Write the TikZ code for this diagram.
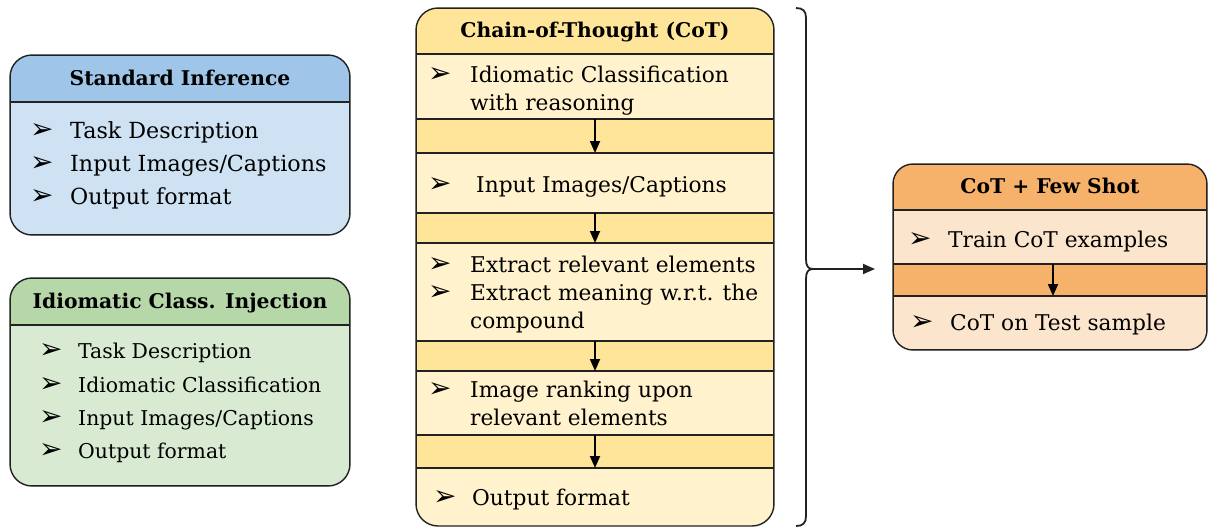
\documentclass[tikz,border=0pt]{standalone}
\usepackage{fontspec}
\setmainfont{DejaVu Serif}
\newfontfamily\bulfont{DejaVu Sans}
\usetikzlibrary{arrows.meta}
\definecolor{blueH}{HTML}{9FC5E8}
\definecolor{blueB}{HTML}{CFE2F3}
\definecolor{greenH}{HTML}{B6D7A8}
\definecolor{greenB}{HTML}{D9EAD3}
\definecolor{yelH}{HTML}{FFE599}
\definecolor{yelB}{HTML}{FFF2CC}
\definecolor{orH}{HTML}{F6B26B}
\definecolor{orB}{HTML}{FCE5CD}
\definecolor{edge}{HTML}{222222}
\newcommand{\bul}{\raisebox{-0.5pt}{\bulfont\fontsize{28}{28}\selectfont\char"27A2}}
\newcommand{\itm}[2]{\makebox[#1][l]{\bul}#2}
\tikzset{
  part/.style={rectangle, draw=edge, line width=1.2pt, anchor=north west, inner sep=0pt, outer sep=0pt},
  item/.style={anchor=base west, inner sep=0pt, font=\fontsize{22.2}{27.5}\selectfont},
  itemc/.style={item, font=\fontsize{21.7}{27.5}\selectfont},
  itemg/.style={item, font=\fontsize{20.4}{27.5}\selectfont},
  head/.style={anchor=base, font=\bfseries\fontsize{20.3}{22}\selectfont, inner sep=0pt},
  flow/.style={-{Triangle[length=12pt,width=10pt]}, line width=1.8pt},
  frame/.style={draw=edge, line width=1.4pt, rounded corners=22pt},
}
\begin{document}
\begin{tikzpicture}[x=1pt,y=-1pt]
\useasboundingbox (0,0) rectangle (1208,528);
% ---------- Standard Inference ----------
\begin{scope}
  \clip[rounded corners=22pt] (10,55) rectangle (350,235);
  \node[part, fill=blueH, minimum width=340pt, minimum height=47pt] (sih) at (10,55) {};
  \node[part, fill=blueB, minimum width=340pt, minimum height=133pt] (sib) at (10,102) {};
\end{scope}
\draw[frame] (10,55) rectangle (350,235);
\node[head] (sit) at (180,85) {Standard Inference};
\node[item] (si1) at (30,138) {\itm{40pt}{Task Description}};
\node[item] (si2) at (30,171) {\itm{40pt}{Input Images/Captions}};
\node[item] (si3) at (30,204) {\itm{40pt}{Output format}};
% ---------- Idiomatic Class. Injection ----------
\begin{scope}
  \clip[rounded corners=22pt] (10,278) rectangle (350,486);
  \node[part, fill=greenH, minimum width=340pt, minimum height=47pt] (ich) at (10,278) {};
  \node[part, fill=greenB, minimum width=340pt, minimum height=161pt] (icb) at (10,325) {};
\end{scope}
\draw[frame] (10,278) rectangle (350,486);
\node[head] (ict) at (180,308) {Idiomatic Class. Injection};
\node[itemg] (ic1) at (39,358) {\itm{39pt}{Task Description}};
\node[itemg] (ic2) at (39,392) {\itm{39pt}{Idiomatic Classification}};
\node[itemg] (ic3) at (39,425) {\itm{39pt}{Input Images/Captions}};
\node[itemg] (ic4) at (39,458) {\itm{39pt}{Output format}};
% ---------- Chain-of-Thought ----------
\begin{scope}
  \clip[rounded corners=22pt] (416,8) rectangle (774,526);
  \node[part, fill=yelH, minimum width=358pt, minimum height=46pt] (coth) at (416,8) {};
  \node[part, fill=yelB, minimum width=358pt, minimum height=65pt] (r1) at (416,54) {};
  \node[part, fill=yelH, minimum width=358pt, minimum height=34pt] (b1) at (416,119) {};
  \node[part, fill=yelB, minimum width=358pt, minimum height=60pt] (r2) at (416,153) {};
  \node[part, fill=yelH, minimum width=358pt, minimum height=30pt] (b2) at (416,213) {};
  \node[part, fill=yelB, minimum width=358pt, minimum height=98pt] (r3) at (416,243) {};
  \node[part, fill=yelH, minimum width=358pt, minimum height=30pt] (b3) at (416,341) {};
  \node[part, fill=yelB, minimum width=358pt, minimum height=64pt] (r4) at (416,371) {};
  \node[part, fill=yelH, minimum width=358pt, minimum height=33pt] (b4) at (416,435) {};
  \node[part, fill=yelB, minimum width=358pt, minimum height=60pt] (r5) at (416,468) {};
\end{scope}
\draw[frame] (416,8) rectangle (774,526);
\node[head] (cott) at (595,37) {Chain-of-Thought (CoT)};
\node[itemc] (c1) at (428,82) {\itm{42pt}{Idiomatic Classification}};
\node[itemc] (c1b) at (470,110) {with reasoning};
\node[itemc] (c2) at (428,192) {\itm{48pt}{Input Images/Captions}};
\node[itemc] (c3) at (428,272) {\itm{42pt}{Extract relevant elements}};
\node[itemc] (c4) at (428,300) {\itm{42pt}{Extract meaning w.r.t. the}};
\node[itemc] (c4b) at (470,328) {compound};
\node[itemc] (c5) at (428,397) {\itm{42pt}{Image ranking upon}};
\node[itemc] (c5b) at (470,425) {relevant elements};
\node[itemc] (c6) at (433,505) {\itm{39pt}{Output format}};
\foreach \b in {b1,b2,b3,b4} \draw[flow] (\b.north) -- (\b.south);
% ---------- Brace ----------
\coordinate (tip) at (813,269);
\coordinate (fsin) at (875,269);
\draw[line width=1.8pt, edge] (796,8) .. controls (803,8) and (806,11) .. (806,18) -- (806,259)
  .. controls (806,266) and (808,269) .. (tip)
  .. controls (808,269) and (806,272) .. (806,279) -- (806,516)
  .. controls (806,523) and (803,526) .. (796,526);
\draw[flow, edge] (tip) -- (fsin);
% ---------- CoT + Few Shot ----------
\begin{scope}
  \clip[rounded corners=20pt] (893,164) rectangle (1207,350);
  \node[part, fill=orH, minimum width=314pt, minimum height=46pt] (fsh) at (893,164) {};
  \node[part, fill=orB, minimum width=314pt, minimum height=54pt] (f1) at (893,210) {};
  \node[part, fill=orH, minimum width=314pt, minimum height=32pt] (fb) at (893,264) {};
  \node[part, fill=orB, minimum width=314pt, minimum height=54pt] (f2) at (893,296) {};
\end{scope}
\draw[frame, rounded corners=20pt] (893,164) rectangle (1207,350);
\node[head] (fst) at (1050,193) {CoT + Few Shot};
\node[itemc] (fs1) at (908,247) {\itm{40pt}{Train CoT examples}};
\node[itemc] (fs2) at (910,330) {\itm{40pt}{CoT on Test sample}};
\draw[flow] ([xshift=3pt]fb.north) -- ([xshift=3pt]fb.south);
\end{tikzpicture}
\end{document}
